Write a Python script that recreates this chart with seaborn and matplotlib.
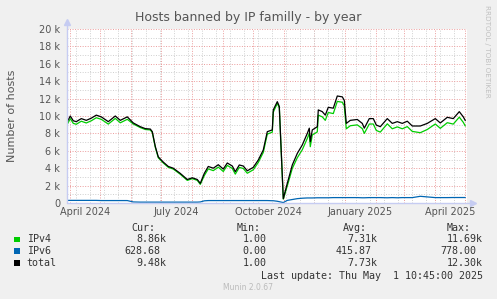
import matplotlib
matplotlib.use("Agg")
import matplotlib.pyplot as plt
import matplotlib.dates as mdates
from matplotlib.ticker import MultipleLocator, FuncFormatter, FixedLocator
from matplotlib.patches import Rectangle
import seaborn as sns
import pandas as pd

# ---- data (values in thousands of hosts) ----
dates = [
    "2024-03-29", "2024-04-01", "2024-04-04", "2024-04-07", "2024-04-12", "2024-04-17",
    "2024-04-22", "2024-04-27", "2024-05-02", "2024-05-09", "2024-05-16", "2024-05-21",
    "2024-05-28", "2024-06-03", "2024-06-10", "2024-06-15", "2024-06-20", "2024-06-22",
    "2024-06-25", "2024-06-28", "2024-07-03", "2024-07-08", "2024-07-13", "2024-07-20",
    "2024-07-27", "2024-08-01", "2024-08-06", "2024-08-09", "2024-08-13", "2024-08-17",
    "2024-08-22", "2024-08-27", "2024-09-01", "2024-09-05", "2024-09-10", "2024-09-13",
    "2024-09-17", "2024-09-21", "2024-09-25", "2024-10-01", "2024-10-06", "2024-10-11",
    "2024-10-15", "2024-10-20", "2024-10-21", "2024-10-25", "2024-10-27", "2024-10-31",
    "2024-11-04", "2024-11-09", "2024-11-14", "2024-11-19", "2024-11-24", "2024-11-26",
    "2024-11-27", "2024-11-29", "2024-12-04", "2024-12-05", "2024-12-09", "2024-12-12",
    "2024-12-15", "2024-12-20", "2024-12-24", "2024-12-29", "2024-12-31", "2025-01-02",
    "2025-01-06", "2025-01-13", "2025-01-18", "2025-01-20", "2025-01-25", "2025-01-29",
    "2025-02-01", "2025-02-05", "2025-02-12", "2025-02-17", "2025-02-22", "2025-02-27",
    "2025-03-04", "2025-03-09", "2025-03-17", "2025-03-24", "2025-04-01", "2025-04-06",
    "2025-04-13", "2025-04-19", "2025-04-25", "2025-04-29", "2025-05-01",
]
total = [
    9.35, 10.0, 9.45, 9.35, 9.7, 9.5,
    9.75, 10.1, 9.9, 9.35, 10.0, 9.5,
    9.9, 9.2, 8.77, 8.55, 8.5, 8.2,
    6.5, 5.3, 4.7, 4.2, 4.0, 3.4,
    2.7, 2.9, 2.7, 2.26, 3.4, 4.2,
    4.0, 4.4, 3.9, 4.6, 4.25, 3.6,
    4.37, 4.25, 3.7, 4.1, 4.94, 6.1,
    8.2, 8.4, 10.7, 11.65, 11.1, 0.5,
    2.26, 4.37, 5.7, 6.67, 8.0, 8.6,
    7.05, 8.4, 8.77, 10.7, 10.5, 10.1,
    11.0, 10.9, 12.3, 12.2, 11.8, 9.15,
    9.5, 9.6, 9.15, 8.6, 9.7, 9.7,
    8.96, 8.77, 9.7, 9.15, 9.35, 9.15,
    9.4, 8.85, 8.85, 9.15, 9.7, 9.2,
    9.85, 9.7, 10.5, 9.9, 9.48,
]
ipv6 = [
    0.30, 0.30, 0.30, 0.30, 0.30, 0.30,
    0.30, 0.30, 0.28, 0.28, 0.28, 0.28,
    0.28, 0.12, 0.10, 0.10, 0.10, 0.10,
    0.10, 0.10, 0.10, 0.10, 0.10, 0.10,
    0.10, 0.10, 0.10, 0.12, 0.25, 0.28,
    0.28, 0.28, 0.28, 0.28, 0.28, 0.28,
    0.28, 0.28, 0.28, 0.28, 0.28, 0.28,
    0.28, 0.26, 0.26, 0.20, 0.15, 0.05,
    0.30, 0.40, 0.50, 0.55, 0.58, 0.58,
    0.58, 0.58, 0.60, 0.60, 0.60, 0.60,
    0.60, 0.62, 0.62, 0.62, 0.62, 0.62,
    0.62, 0.62, 0.60, 0.60, 0.62, 0.62,
    0.62, 0.62, 0.60, 0.62, 0.60, 0.62,
    0.62, 0.62, 0.77, 0.70, 0.62, 0.62,
    0.62, 0.63, 0.63, 0.63, 0.63,
]
ipv4 = [
    9.05, 9.70, 9.15, 9.05, 9.40, 9.20,
    9.45, 9.80, 9.62, 9.07, 9.72, 9.22,
    9.62, 9.08, 8.67, 8.45, 8.40, 8.10,
    6.40, 5.20, 4.60, 4.10, 3.90, 3.30,
    2.60, 2.80, 2.60, 2.14, 3.15, 3.92,
    3.72, 4.12, 3.62, 4.32, 3.97, 3.32,
    4.09, 3.97, 3.42, 3.82, 4.66, 5.82,
    7.92, 8.14, 10.44, 11.45, 10.95, 0.45,
    1.96, 3.97, 5.20, 6.12, 7.42, 8.02,
    6.47, 7.82, 8.17, 10.10, 9.90, 9.50,
    10.40, 10.28, 11.68, 11.58, 11.18, 8.53,
    8.88, 8.98, 8.55, 8.00, 9.08, 9.08,
    8.34, 8.15, 9.10, 8.53, 8.75, 8.53,
    8.78, 8.23, 8.08, 8.45, 9.08, 8.58,
    9.23, 9.07, 9.87, 9.27, 8.85,
]

series_names = ["IPv4", "IPv6", "total"]
series_colors = ["#00CC00", "#0066B3", "#000000"]
stats_cur = ["8.86k", "628.68", "9.48k"]
stats_min = ["1.00", "0.00", "1.00"]
stats_avg = ["7.31k", "415.87", "7.73k"]
stats_max = ["11.69k", "778.00", "12.30k"]
y_ticks = [0, 2, 4, 6, 8, 10, 12, 14, 16, 18, 20]

title = "Hosts banned by IP familly - by year"
ylabel = "Number of hosts"
last_update = "Last update: Thu May  1 10:45:00 2025"

# ---- style ----
sns.set_style("white")
plt.rcParams["font.family"] = ["DejaVu Sans"]

W, H = 497, 299
fig = plt.figure(figsize=(W / 100, H / 100), dpi=100, facecolor="#F0F0F0")
ax = fig.add_axes([67 / W, 1 - 203 / H, 400 / W, 174 / H])
ax.set_facecolor("white")

df = pd.DataFrame({"date": pd.to_datetime(dates), "IPv4": ipv4, "IPv6": ipv6, "total": total})

red = "#EB9C9C"
gray = "#CFCFCF"
dot = (0, (1, 1.6))

# grid
ax.set_ylim(0, 20)
ax.yaxis.set_major_locator(FixedLocator(y_ticks))
ax.yaxis.set_minor_locator(MultipleLocator(1))
ax.yaxis.set_major_formatter(FuncFormatter(lambda v, p: "0" if v == 0 else f"{int(v)} k"))
ax.grid(which="major", axis="y", color=red, ls=dot, lw=0.7)
ax.grid(which="minor", axis="y", color=gray, ls=dot, lw=0.7)

ax.set_xlim(pd.Timestamp("2024-03-28 17:00"), pd.Timestamp("2025-05-02 17:00"))
ax.xaxis.set_major_locator(mdates.MonthLocator(bymonth=[1, 4, 7, 10], bymonthday=16))
ax.xaxis.set_major_formatter(mdates.DateFormatter("%B %Y"))
minor_pos = mdates.date2num(pd.date_range("2024-03-24", "2025-05-10", freq="14D").to_pydatetime())
ax.xaxis.set_minor_locator(FixedLocator(minor_pos))
ax.grid(which="minor", axis="x", color=gray, ls=dot, lw=0.7)
ax.grid(which="major", axis="x", visible=False)
for m in pd.date_range("2024-04-01", "2025-05-01", freq="MS"):
    ax.axvline(m, color=red, ls=dot, lw=0.7, zorder=0.5)

# series
for name, col in zip(series_names, series_colors):
    sns.lineplot(data=df, x="date", y=name, color=col, lw=0.9, ax=ax, legend=False, zorder=3)
ax.set_xlabel("")
ax.set_ylabel("")

ax.tick_params(axis="both", which="both", length=0, labelsize=7, labelcolor="#555555")
ax.tick_params(axis="y", pad=5)
ax.tick_params(axis="x", pad=3)

for s in ["top", "right", "left", "bottom"]:
    ax.spines[s].set_visible(False)
axis_col = "#C6CCF2"
ax.plot([0, 0], [0, 1.035], transform=ax.transAxes, color=axis_col, lw=1, clip_on=False, zorder=4)
ax.plot([0, 1.012], [0, 0], transform=ax.transAxes, color=axis_col, lw=1, clip_on=False, zorder=4)
ax.plot([0], [1.04], marker="^", ms=4, color=axis_col, transform=ax.transAxes, clip_on=False, zorder=4)
ax.plot([1.016], [0], marker=">", ms=4, color=axis_col, transform=ax.transAxes, clip_on=False, zorder=4)

# texts
fig.text(0.5, 1 - 17 / H, title, ha="center", va="center", fontsize=9, color="#555555")
fig.text(12 / W, 1 - 116 / H, ylabel, ha="center", va="center", rotation=90, fontsize=8, color="#555555")
fig.text(487 / W, 1 - 5 / H, "RRDTOOL / TOBI OETIKER", ha="center", va="top", rotation=270,
         fontsize=5.2, color="#C0C0C0")

mono = dict(family="DejaVu Sans Mono", fontsize=7.2, color="#333333", va="center")
fy = lambda y: 1 - y / H
fig.text(131.5 / W, fy(228.3), "Cur:", ha="left", **mono)
fig.text(236.7 / W, fy(228.3), "Min:", ha="left", **mono)
fig.text(342.7 / W, fy(228.3), "Avg:", ha="left", **mono)
fig.text(446.7 / W, fy(228.3), "Max:", ha="left", **mono)

row_y = [239.3, 251.0, 263.0]
for i, (name, col) in enumerate(zip(series_names, series_colors)):
    y = row_y[i]
    fig.patches.append(Rectangle((14 / W, fy(y + 2.8)), 5.5 / W, 5.5 / H, transform=fig.transFigure,
                                 facecolor=col, edgecolor="none"))
    fig.text(26.7 / W, fy(y), name, ha="left", **mono)
    for val, right in zip([stats_cur[i], stats_min[i], stats_avg[i], stats_max[i]],
                          [166.7, 266.7, 377.7, 482.7]):
        r = right if val.endswith("k") or val in ("1.00", "0.00") else right - 6
        fig.text(r / W, fy(y), val, ha="right", **mono)

fig.text(482.7 / W, fy(275.7), last_update, ha="right", **mono)
fig.text(248 / W, fy(288), "Munin 2.0.67", ha="center", va="center", fontsize=5.5, color="#BBBBBB")

fig.savefig("out.png", dpi=100, facecolor=fig.get_facecolor())
